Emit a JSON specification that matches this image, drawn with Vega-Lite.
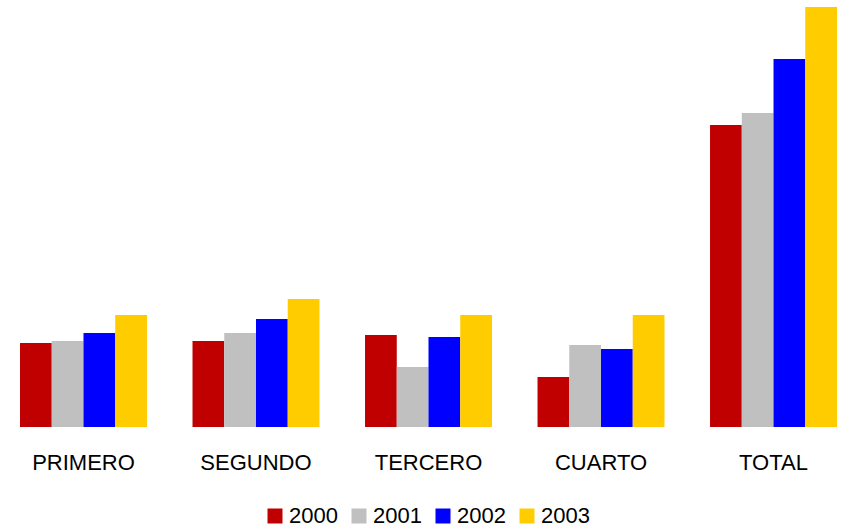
{
  "$schema": "https://vega.github.io/schema/vega-lite/v6.json",
  "width": 817,
  "height": 427,
  "autosize": {"type": "none"},
  "padding": {"left": 20, "top": 0, "right": 5, "bottom": 102},
  "background": "white",
  "config": {
    "view": {"stroke": null},
    "font": "Liberation Sans"
  },
  "data": {
    "values": [
      {"trimestre": "PRIMERO", "anio": "2000", "valor": 84},
      {"trimestre": "PRIMERO", "anio": "2001", "valor": 86},
      {"trimestre": "PRIMERO", "anio": "2002", "valor": 94},
      {"trimestre": "PRIMERO", "anio": "2003", "valor": 112},
      {"trimestre": "SEGUNDO", "anio": "2000", "valor": 86},
      {"trimestre": "SEGUNDO", "anio": "2001", "valor": 94},
      {"trimestre": "SEGUNDO", "anio": "2002", "valor": 108},
      {"trimestre": "SEGUNDO", "anio": "2003", "valor": 128},
      {"trimestre": "TERCERO", "anio": "2000", "valor": 92},
      {"trimestre": "TERCERO", "anio": "2001", "valor": 60},
      {"trimestre": "TERCERO", "anio": "2002", "valor": 90},
      {"trimestre": "TERCERO", "anio": "2003", "valor": 112},
      {"trimestre": "CUARTO", "anio": "2000", "valor": 50},
      {"trimestre": "CUARTO", "anio": "2001", "valor": 82},
      {"trimestre": "CUARTO", "anio": "2002", "valor": 78},
      {"trimestre": "CUARTO", "anio": "2003", "valor": 112},
      {"trimestre": "TOTAL", "anio": "2000", "valor": 302},
      {"trimestre": "TOTAL", "anio": "2001", "valor": 314},
      {"trimestre": "TOTAL", "anio": "2002", "valor": 368},
      {"trimestre": "TOTAL", "anio": "2003", "valor": 420}
    ]
  },
  "mark": {"type": "bar"},
  "encoding": {
    "x": {
      "field": "trimestre",
      "type": "nominal",
      "sort": ["PRIMERO", "SEGUNDO", "TERCERO", "CUARTO", "TOTAL"],
      "scale": {"paddingInner": 0.264, "paddingOuter": 0},
      "axis": {
        "title": null,
        "domain": false,
        "ticks": false,
        "labelAngle": 0,
        "labelFontSize": 22,
        "labelColor": "#000000",
        "labelPadding": 25,
        "labelFont": "Liberation Sans"
      }
    },
    "xOffset": {
      "field": "anio",
      "type": "nominal",
      "scale": {"paddingInner": 0, "paddingOuter": 0}
    },
    "y": {
      "field": "valor",
      "type": "quantitative",
      "scale": {"domain": [0, 427], "nice": false},
      "axis": null
    },
    "color": {
      "field": "anio",
      "type": "nominal",
      "scale": {
        "domain": ["2000", "2001", "2002", "2003"],
        "range": ["#C00000", "#C0C0C0", "#0000FF", "#FFCC00"]
      },
      "legend": {
        "title": null,
        "orient": "none",
        "direction": "horizontal",
        "legendX": 244,
        "legendY": 505,
        "symbolType": "square",
        "symbolSize": 225,
        "symbolStrokeWidth": 0,
        "symbolOpacity": 1,
        "labelFontSize": 22,
        "labelColor": "#000000",
        "labelFont": "Liberation Sans",
        "labelOffset": 3,
        "columnPadding": 10
      }
    }
  }
}
